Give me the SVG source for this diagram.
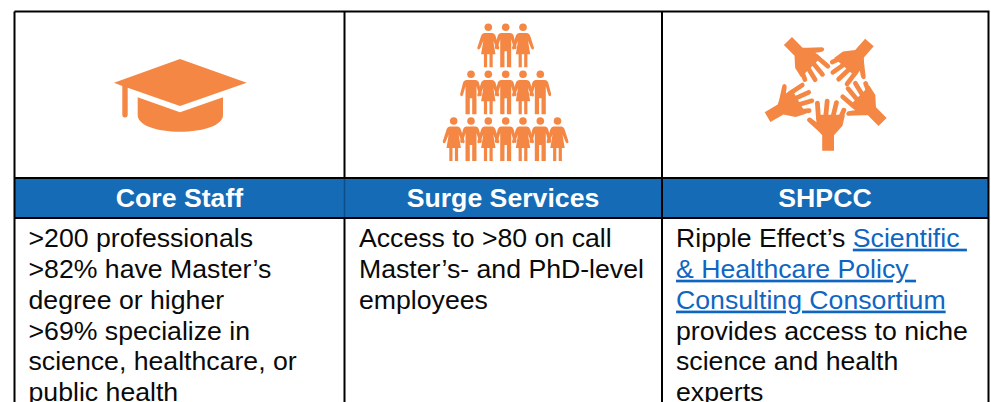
<svg xmlns="http://www.w3.org/2000/svg" width="991" height="402" viewBox="0 0 991 402">
<style>
text{font-family:"Liberation Sans",Arial,sans-serif;font-size:26.67px;fill:#0a0a0a}
.h{font-weight:700;fill:#fff;text-anchor:middle}
.l{fill:#0f66c2;text-decoration:underline}
.o{fill:#f58744}
.g{stroke:#000;stroke-width:2;fill:none}
.f{stroke:#f58744;stroke-linecap:round;fill:none}
</style>
<defs>
<g id="man" class="o"><circle cx="0" cy="0" r="3.8"/><path d="M-4.8 5.600H4.800Q7 5.800 7.800 8L10.800 19.500Q11 21.500 9.800 22Q8.600 22 8 20.400L5.500 12V40H1.200V24H-1.200V40H-5.500V12L-8 20.400Q-8.600 22-9.800 22Q-11 21.500-10.800 19.500L-7.800 8Q-7 5.800-4.800 5.600Z"/></g>
<g id="woman" class="o"><circle cx="0" cy="0" r="3.8"/><path d="M-4 5.600H4Q6 5.800 7 8L11 20.500Q11 22 9.800 22.300Q8.800 22.300 8 20.800L5 13.500L7.200 27H4.400V40H1.200V27H-1.200V40H-4.400V27H-7.200L-5 13.500L-8 20.800Q-8.800 22.300-9.800 22.300Q-11 22-11 20.500L-7 8Q-6 5.800-4 5.600Z"/></g>
<g id="hand"><path class="o" d="M-5.800 0V-15.500L-9.500-19.500L-20-29Q-22-31-20-32.800Q-18-33.800-16-32L-11.500-28.500L-12-36H17L14.500-25L6-15.500V0Z"/><g class="f" stroke-width="4.800"><path d="M-9.500-32L-10.600-47.500"/><path d="M-2.500-32L-0.800-49.500"/><path d="M4.500-32L8.400-48"/><path d="M11-30L15.800-40.500"/></g></g>
</defs>
<g id="connectors">
<rect x="15" y="178" width="973" height="40" fill="#156bb5"/>
<path class="g" d="M14.500 11.500H988.500V402M14.500 11.500V402M344.500 11.500V178M344.500 218V402M662 11.500V402M14.500 178H988.500M14.500 218H988.500"/>
<path d="M344.500 179V217" stroke="#0d4f8b" stroke-width="1.500"/>
</g>
<g id="node-core-staff">
<g id="cap" class="o"><path d="M180 59L246.700 82.700L180 106L127.700 87.700V114.500Q127.700 117.500 125 117.500Q122.300 117.500 122.300 114.500V86L114 82.700Z"/><path d="M137.700 97.300L180 112.300L223 97.300V115C223 125.500 203 131.700 180 131.700C157 131.700 137.700 125.500 137.700 115Z"/></g>
<text class="h" x="179.500" y="207">Core Staff</text>
<text x="28.500" y="246.700">&gt;200 professionals</text>
<text x="28.500" y="277.700">&gt;82% have Master’s</text>
<text x="28.500" y="308.600">degree or higher</text>
<text x="28.500" y="339.500">&gt;69% specialize in</text>
<text x="28.500" y="370.300">science, healthcare, or</text>
<text x="28.500" y="401.200">public health</text>
</g>
<g id="node-surge-services">
<g id="people">
<use href="#woman" x="488.300" y="27.300"/><use href="#man" x="505.700" y="27.300"/><use href="#woman" x="523" y="27.300"/>
<use href="#man" x="471" y="74.300"/><use href="#woman" x="488.300" y="74.300"/><use href="#man" x="505.700" y="74.300"/><use href="#woman" x="523" y="74.300"/><use href="#man" x="540.300" y="74.300"/>
<use href="#woman" x="453.700" y="121"/><use href="#man" x="471" y="121"/><use href="#woman" x="488.300" y="121"/><use href="#man" x="505.700" y="121"/><use href="#woman" x="523" y="121"/><use href="#man" x="540.300" y="121"/><use href="#woman" x="557.500" y="121"/>
</g>
<text class="h" x="503" y="207">Surge Services</text>
<text x="359" y="246.700">Access to &gt;80 on call</text>
<text x="359" y="277.700">Master’s- and PhD-level</text>
<text x="359" y="308.600">employees</text>
</g>
<g id="node-shpcc">
<g id="hands">
<use href="#hand" transform="translate(828 150.700)"/>
<use href="#hand" transform="translate(767.500 117) rotate(60) scale(.97)"/>
<use href="#hand" transform="translate(788 41) rotate(135) scale(.97)"/>
<use href="#hand" transform="translate(869.500 42.500) rotate(221) scale(.97)"/>
<use href="#hand" transform="translate(882.500 122) rotate(315) scale(.97)"/>
</g>
<text class="h" x="825" y="207">SHPCC</text>
<text x="676" y="246.700" xml:space="preserve">Ripple Effect’s <tspan class="l" xml:space="preserve">Scientific </tspan></text>
<text x="676" y="277.700" class="l" xml:space="preserve">&amp; Healthcare Policy </text>
<text x="676" y="308.600" class="l">Consulting Consortium</text>
<text x="676" y="339.500">provides access to niche</text>
<text x="676" y="370.300">science and health</text>
<text x="676" y="401.200">experts</text>
</g>
</svg>
